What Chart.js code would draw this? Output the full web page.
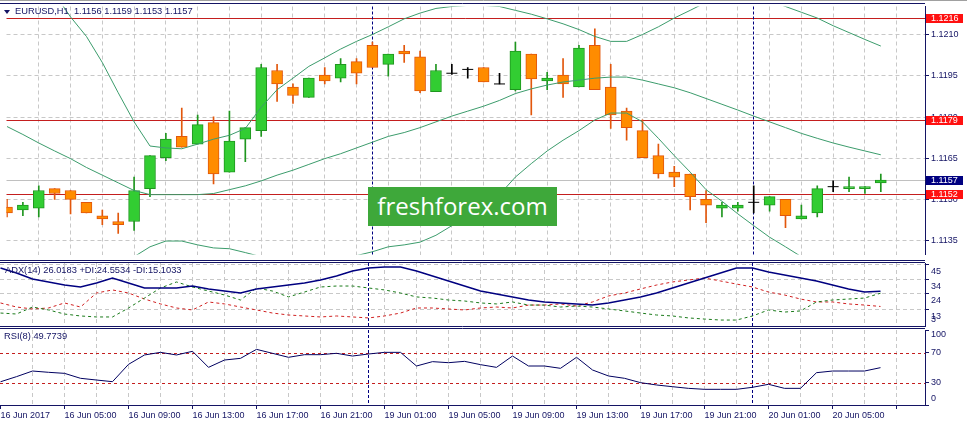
<!DOCTYPE html>
<html>
<head>
<meta charset="utf-8">
<title>EURUSD H1</title>
<script src="https://cdn.jsdelivr.net/npm/chart.js@4.4.1/dist/chart.umd.min.js"></script>
<style>
  html, body { margin: 0; padding: 0; background: #fff; }
  body { position: relative; width: 967px; height: 423px; overflow: hidden; font-family: "Liberation Sans", Arial, sans-serif; }
  canvas { position: absolute; left: 0; }
  #mainChart { top: 0; }
  #adxChart { top: 261px; }
  #rsiChart { top: 327px; }
  .title { position: absolute; font-size: 9.3px; line-height: 11px; color: #141464; white-space: pre; }
  #tri { position: absolute; left: 4px; top: 10px; width: 0; height: 0;
         border-left: 3px solid transparent; border-right: 3px solid transparent; border-top: 4px solid #141464; }
  #wm { position: absolute; left: 368px; top: 187px; width: 189px; height: 39px; background: #3ea83a;
        color: #fff; font-family: "Open Sans", sans-serif; font-size: 24px; line-height: 38px; text-align: center; }
</style>
</head>
<body>
<canvas id="mainChart" width="967" height="261"></canvas>
<canvas id="adxChart" width="967" height="66"></canvas>
<canvas id="rsiChart" width="967" height="96"></canvas>
<div id="tri"></div>
<div class="title" style="left:15px;top:6px">EURUSD,H1  1.1156 1.1159 1.1153 1.1157</div>
<div class="title" style="left:5px;top:265px">ADX(14) 26.0183 +DI:24.5534 -DI:15.1033</div>
<div class="title" style="left:4px;top:331px">RSI(8) 49.7739</div>
<div id="wm">freshforex.com</div>
<script>
// ---- data (one value per H1 bar, 16 Jun 01:00 .. 20 Jun 08:00) ----
const timeLabels = ['16 Jun 2017', '16 Jun 05:00', '16 Jun 09:00', '16 Jun 13:00', '16 Jun 17:00', '16 Jun 21:00',
  '19 Jun 01:00', '19 Jun 05:00', '19 Jun 09:00', '19 Jun 13:00', '19 Jun 17:00', '19 Jun 21:00',
  '20 Jun 01:00', '20 Jun 05:00'];
const dayStarts = [23, 47];

const opens = [1.11473, 1.11462, 1.11469, 1.11540, 1.11533, 1.11490, 1.11441, 1.11420, 1.11420, 1.11540,
  1.11653, 1.11730, 1.11702, 1.11780, 1.11600, 1.11720, 1.11751, 1.11970, 1.11910, 1.11872,
  1.11953, 1.11942, 1.12002, 1.12062, 1.11992, 1.12041, 1.12020, 1.11893, 1.11960, 1.11974,
  1.11981, 1.11921, 1.11900, 1.12030, 1.11932, 1.11953, 1.11910, 1.12062, 1.11910, 1.11822,
  1.11751, 1.11660, 1.11600, 1.11593, 1.11501, 1.11469, 1.11469, 1.11490, 1.11480, 1.11501,
  1.11430, 1.11451, 1.11547, 1.11540, 1.11540, 1.11561];
const highs = [1.11501, 1.11490, 1.11550, 1.11540, 1.11533, 1.11490, 1.11462, 1.11451, 1.11582, 1.11660,
  1.11741, 1.11833, 1.11808, 1.11801, 1.11822, 1.11762, 1.11992, 1.11992, 1.11921, 1.11942,
  1.11981, 1.12013, 1.12013, 1.12073, 1.12030, 1.12062, 1.12041, 1.11992, 1.11992, 1.11981,
  1.11981, 1.11960, 1.12073, 1.12030, 1.11963, 1.12013, 1.12062, 1.12122, 1.11992, 1.11833,
  1.11790, 1.11702, 1.11621, 1.11593, 1.11533, 1.11490, 1.11490, 1.11550, 1.11511, 1.11501,
  1.11480, 1.11550, 1.11568, 1.11582, 1.11547, 1.11593];
const lows = [1.11437, 1.11441, 1.11437, 1.11501, 1.11448, 1.11451, 1.11409, 1.11377, 1.11388, 1.11511,
  1.11642, 1.11691, 1.11702, 1.11557, 1.11600, 1.11638, 1.11730, 1.11857, 1.11850, 1.11872,
  1.11921, 1.11928, 1.11921, 1.11981, 1.11949, 1.11999, 1.11889, 1.11893, 1.11956, 1.11942,
  1.11928, 1.11921, 1.11896, 1.11808, 1.11900, 1.11872, 1.11910, 1.11900, 1.11759, 1.11716,
  1.11653, 1.11578, 1.11547, 1.11462, 1.11416, 1.11437, 1.11458, 1.11451, 1.11458, 1.11398,
  1.11430, 1.11437, 1.11529, 1.11529, 1.11522, 1.11529];
const closes = [1.11451, 1.11480, 1.11533, 1.11522, 1.11501, 1.11451, 1.11430, 1.11409, 1.11533, 1.11660,
  1.11720, 1.11691, 1.11773, 1.11593, 1.11713, 1.11762, 1.11981, 1.11921, 1.11879, 1.11942,
  1.11932, 1.11992, 1.11960, 1.11981, 1.12030, 1.12030, 1.11896, 1.11970, 1.11960, 1.11974,
  1.11928, 1.11921, 1.12041, 1.11939, 1.11942, 1.11921, 1.12052, 1.11900, 1.11808, 1.11762,
  1.11653, 1.11593, 1.11582, 1.11511, 1.11480, 1.11480, 1.11480, 1.11490, 1.11511, 1.11441,
  1.11441, 1.11540, 1.11547, 1.11547, 1.11547, 1.11571];

const bbUpper = [1.12482, 1.12405, 1.12327, 1.12249, 1.12165, 1.12094, 1.11999, 1.11889, 1.11783, 1.11695,
  1.11688, 1.11685, 1.11702, 1.11720, 1.11734, 1.11759, 1.11836, 1.11900, 1.11942, 1.11985,
  1.12016, 1.12048, 1.12076, 1.12101, 1.12129, 1.12158, 1.12179, 1.12196, 1.12203, 1.12207,
  1.12207, 1.12203, 1.12189, 1.12175, 1.12158, 1.12140, 1.12119, 1.12094, 1.12076, 1.12076,
  1.12101, 1.12129, 1.12161, 1.12189, 1.12218, 1.12239, 1.12246, 1.12239, 1.12225, 1.12203,
  1.12182, 1.12161, 1.12133, 1.12108, 1.12083, 1.12059];
const bbMiddle = [1.11766, 1.11737, 1.11706, 1.11677, 1.11649, 1.11617, 1.11589, 1.11561, 1.11533, 1.11518,
  1.11518, 1.11518, 1.11518, 1.11522, 1.11536, 1.11550, 1.11568, 1.11589, 1.11607, 1.11628,
  1.11649, 1.11667, 1.11688, 1.11709, 1.11730, 1.11744, 1.11762, 1.11783, 1.11804, 1.11822,
  1.11840, 1.11861, 1.11886, 1.11903, 1.11917, 1.11928, 1.11935, 1.11942, 1.11946, 1.11946,
  1.11935, 1.11921, 1.11907, 1.11889, 1.11868, 1.11847, 1.11826, 1.11804, 1.11783, 1.11762,
  1.11741, 1.11723, 1.11706, 1.11691, 1.11677, 1.11663];
const bbLower = [1.11049, 1.11070, 1.11084, 1.11105, 1.11133, 1.11141, 1.11180, 1.11232, 1.11292, 1.11328,
  1.11349, 1.11349, 1.11335, 1.11324, 1.11321, 1.11307, 1.11292, 1.11278, 1.11271, 1.11271,
  1.11282, 1.11285, 1.11296, 1.11310, 1.11328, 1.11335, 1.11345, 1.11370, 1.11405, 1.11437,
  1.11469, 1.11518, 1.11582, 1.11631, 1.11677, 1.11716, 1.11751, 1.11790, 1.11815, 1.11815,
  1.11783, 1.11723, 1.11660, 1.11600, 1.11536, 1.11494, 1.11448, 1.11405, 1.11363, 1.11328,
  1.11292, 1.11285, 1.11278, 1.11275, 1.11271, 1.11268];

const adxLine = [42.6, 39.0, 34.7, 32.6, 30.4, 29.0, 31.9, 35.4, 31.9, 28.3,
  28.3, 28.3, 29.7, 27.6, 26.1, 24.7, 27.6, 29.0, 30.4, 31.9,
  34.0, 36.9, 40.4, 42.6, 43.3, 43.3, 40.4, 36.9, 33.3, 29.7,
  26.1, 24.0, 21.9, 19.7, 18.3, 17.6, 16.9, 16.1, 17.6, 19.7,
  21.9, 24.7, 28.3, 31.9, 35.4, 39.0, 42.6, 42.6, 39.7, 37.6,
  35.4, 33.3, 30.4, 27.6, 25.4, 26.0];
const plusDI = [10.4, 9.7, 14.7, 12.6, 9.7, 8.3, 7.6, 7.6, 14.0, 21.1,
  28.3, 32.6, 29.0, 26.1, 23.3, 19.7, 28.3, 26.1, 21.9, 25.4,
  29.0, 29.7, 29.7, 28.3, 26.9, 24.7, 21.9, 21.1, 19.7, 19.0,
  17.6, 16.9, 18.3, 16.1, 16.1, 14.7, 15.4, 14.7, 13.3, 11.9,
  10.4, 9.0, 8.3, 6.9, 6.1, 5.4, 5.4, 8.3, 12.6, 11.1,
  11.9, 18.3, 19.7, 20.4, 21.1, 24.55];
const minusDI = [17.6, 14.7, 13.3, 14.0, 17.6, 14.7, 24.7, 26.9, 24.7, 20.4,
  16.9, 14.0, 12.6, 18.3, 16.9, 14.7, 12.6, 10.4, 9.0, 8.3,
  7.6, 8.3, 7.6, 6.9, 8.3, 10.4, 14.0, 14.0, 13.3, 12.6,
  14.0, 14.7, 14.0, 16.1, 16.1, 16.9, 15.4, 18.3, 22.6, 24.7,
  27.6, 30.4, 32.6, 34.0, 35.4, 33.3, 31.1, 29.0, 25.4, 23.3,
  20.4, 18.3, 18.3, 16.9, 16.1, 15.1];
const rsiLine = [31, 37.8, 45.3, 43.6, 42.2, 35.6, 33.3, 31.1, 54.2, 66.7,
  70.2, 66.7, 71.6, 50.2, 60, 62.2, 74.2, 68.9, 63.6, 67.1,
  67.1, 68.9, 65.3, 68, 70.2, 70.2, 52, 57.8, 56.4, 58.2,
  53.8, 50.2, 65.3, 52, 52, 48.9, 63.6, 46.7, 38.7, 35.6,
  29.8, 26.7, 24.4, 22.2, 20.9, 20.9, 20.9, 23.6, 27.6, 22.2,
  22.2, 43.1, 45.3, 45.3, 45.3, 49.8];

const priceTicks = [1.1135, 1.1150, 1.1165, 1.1180, 1.1195, 1.1210];
const priceLevels = [1.1216, 1.1179, 1.1152];
const bidPrice = 1.1157;
const adxTicks = [45, 34, 24, 13];
const adxLabels = [45, 34, 24, 13, 3];
const rsiTicks = [100, 70, 30, 0];
const rsiLevels = [70, 30];

// ---- styles ----
const NAVY = '#141464';
const GRID = '#c8c8c8';
const BAND = '#3c9c6c';
const LEVEL = '#c41e1e';
const BULL_FILL = '#32cd32', BULL_LINE = '#1f961f';
const BEAR_FILL = '#ff8c00', BEAR_LINE = '#e2570c';
const FONT = '"Liberation Sans", Arial, sans-serif';
const font = { family: FONT, size: 9 };

const common = {
  responsive: false,
  animation: false,
  events: [],
  plugins: { legend: { display: false }, tooltip: { enabled: false } }
};

const pts = arr => arr.map((v, i) => ({ x: i, y: v }));

// same x scale in every panel: bar i sits on pixel column 16*i
function xScale(showLabels) {
  return {
    type: 'linear',
    bounds: 'data',
    min: -0.03125,
    max: 57.78125,
    offset: false,
    afterBuildTicks: s => {
      s.ticks = [];
      for (let v = 0; v <= 56; v += 2) s.ticks.push({ value: v });
    },
    afterFit: s => {
      s.height = showLabels ? 18 : 0;
      s.paddingLeft = 0; s.paddingRight = 0;
    },
    grid: {
      offset: false,
      color: c => (c.tick && c.tick.value === 0 ? 'rgba(0,0,0,0)' : GRID),
      drawTicks: showLabels,
      tickLength: 4,
      tickColor: c => (c.tick && c.tick.value % 4 === 0 ? NAVY : 'rgba(0,0,0,0)'),
      tickBorderDash: [1, 0]
    },
    border: { display: showLabels, color: NAVY, dash: [4, 3] },
    ticks: {
      display: showLabels, autoSkip: false, maxRotation: 0, minRotation: 0,
      align: 'start', padding: 1, color: NAVY, font,
      callback: v => (v % 4 === 0 ? (timeLabels[v / 4] || '') : '')
    }
  };
}

function subY(min, max, ticks, gridOn) {
  return {
    position: 'right', bounds: 'data', min, max,
    afterBuildTicks: s => { s.ticks = ticks.map(v => ({ value: v })); },
    afterFit: s => { s.width = 42; s.paddingTop = 0; s.paddingBottom = 0; },
    grid: { drawOnChartArea: gridOn, color: GRID, tickLength: 4, tickColor: NAVY, tickBorderDash: [1, 0] },
    border: { color: NAVY, dash: [4, 3] },
    ticks: { display: false }
  };
}

function hline(ctx, a, y, color, dash) {
  ctx.save();
  ctx.strokeStyle = color;
  ctx.lineWidth = 1;
  ctx.setLineDash(dash);
  ctx.beginPath();
  ctx.moveTo(a.left, y);
  ctx.lineTo(a.right, y);
  ctx.stroke();
  ctx.restore();
}

function daySeparators(chart) {
  const { ctx, chartArea: a, scales: { x } } = chart;
  ctx.save();
  ctx.strokeStyle = '#000080';
  ctx.lineWidth = 1;
  ctx.setLineDash([3, 2]);
  dayStarts.forEach(i => {
    const px = Math.round(x.getPixelForValue(i) - 0.5) + 0.5;
    ctx.beginPath();
    ctx.moveTo(px, a.top);
    ctx.lineTo(px, a.bottom);
    ctx.stroke();
  });
  ctx.restore();
}

function frameLine(ctx, y, x1, x2, color) {
  ctx.save();
  ctx.strokeStyle = color;
  ctx.lineWidth = 1;
  ctx.beginPath();
  ctx.moveTo(x1, y);
  ctx.lineTo(x2, y);
  ctx.stroke();
  ctx.restore();
}

function drawTag(ctx, yPix, text, bg) {
  const yy = Math.round(yPix);
  ctx.fillStyle = bg;
  ctx.fillRect(926, yy - 4, 37, 9);
  ctx.fillStyle = '#ffffff';
  ctx.font = '9px ' + FONT;
  ctx.textBaseline = 'middle';
  ctx.textAlign = 'left';
  ctx.fillText(text, 931, yy + 0.5);
}

const mainOverlay = {
  id: 'mainOverlay',
  beforeDatasetsDraw(chart) {
    const { ctx, chartArea: a, scales: { y } } = chart;
    hline(ctx, a, Math.round(y.getPixelForValue(bidPrice)) + 0.5, '#c0c0c0', []);
    priceLevels.forEach(v => hline(ctx, a, Math.round(y.getPixelForValue(v)) + 0.5, LEVEL, []));
    daySeparators(chart);
  },
  afterDraw(chart) {
    const { ctx, chartArea: a, scales: { y } } = chart;
    frameLine(ctx, 0.5, 0, 967, '#a0a0a0');
    frameLine(ctx, 3.5, 0, a.right, NAVY);
    frameLine(ctx, 260.5, 0, a.right, NAVY);
    ctx.save();
    priceLevels.forEach(v => drawTag(ctx, y.getPixelForValue(v), v.toFixed(4), '#ff1010'));
    drawTag(ctx, y.getPixelForValue(bidPrice), bidPrice.toFixed(4), '#000080');
    ctx.restore();
  }
};

function panelOverlay(labels, offset, levels, topBorder, bottomBorder) {
  return {
    id: 'panelOverlay',
    beforeDatasetsDraw(chart) {
      const { ctx, chartArea: a, scales: { y } } = chart;
      levels.forEach(v => hline(ctx, a, Math.round(y.getPixelForValue(v)) + 0.5, LEVEL, [3, 3]));
      daySeparators(chart);
    },
    afterDraw(chart) {
      const { ctx, chartArea: a, scales: { y } } = chart;
      if (topBorder !== null) frameLine(ctx, topBorder, 0, a.right, NAVY);
      if (bottomBorder !== null) frameLine(ctx, bottomBorder, 0, a.right, NAVY);
      ctx.save();
      ctx.font = '9px ' + FONT;
      ctx.fillStyle = NAVY;
      ctx.textBaseline = 'middle';
      ctx.textAlign = 'left';
      labels.forEach(v => {
        let py = y.getPixelForValue(v) + offset;
        py = Math.min(Math.max(py, a.top + 5), a.bottom - 6);
        ctx.fillText(String(v), a.right + 6, py);
      });
      ctx.restore();
    }
  };
}

// ---- main price panel ----
const idx = opens.map((_, i) => i);
const doji = idx.filter(i => opens[i] === closes[i]);
const bodies = idx.filter(i => opens[i] !== closes[i]);
const isUp = i => closes[i] > opens[i];

new Chart(document.getElementById('mainChart'), {
  type: 'bar',
  data: {
    datasets: [
      { type: 'line', data: pts(bbUpper), borderColor: BAND, borderWidth: 1, pointRadius: 0, tension: 0, order: 0 },
      { type: 'line', data: pts(bbMiddle), borderColor: BAND, borderWidth: 1, pointRadius: 0, tension: 0, order: 0 },
      { type: 'line', data: pts(bbLower), borderColor: BAND, borderWidth: 1, pointRadius: 0, tension: 0, order: 0 },
      {
        type: 'scatter', data: doji.map(i => ({ x: i, y: opens[i] })),
        pointStyle: 'line', pointRadius: 5.5, pointBorderColor: '#000', pointBorderWidth: 1, order: 1
      },
      {
        data: bodies.map(i => ({ x: i, y: [Math.min(opens[i], closes[i]), Math.max(opens[i], closes[i])] })),
        backgroundColor: bodies.map(i => (isUp(i) ? BULL_FILL : BEAR_FILL)),
        borderColor: bodies.map(i => (isUp(i) ? BULL_LINE : BEAR_LINE)),
        borderWidth: 1, borderSkipped: false, barThickness: 11, grouped: false, order: 2
      },
      {
        data: idx.map(i => ({ x: i, y: [lows[i], highs[i]] })),
        backgroundColor: idx.map(i => (opens[i] === closes[i] ? '#000' : isUp(i) ? BULL_LINE : BEAR_LINE)),
        borderWidth: 0, barThickness: 1, grouped: false, order: 3
      }
    ]
  },
  options: {
    ...common,
    layout: { padding: { top: 4, bottom: 1, left: 0, right: 0 } },
    scales: {
      x: xScale(false),
      y: {
        position: 'right', bounds: 'data', min: 1.11300, max: 1.12203,
        afterBuildTicks: s => { s.ticks = priceTicks.map(v => ({ value: v })); },
        afterFit: s => { s.width = 42; s.paddingTop = 0; s.paddingBottom = 0; },
        grid: { color: GRID, tickLength: 4, tickColor: NAVY, tickBorderDash: [1, 0] },
        border: { color: NAVY, dash: [4, 3] },
        ticks: { color: NAVY, font, padding: 2, callback: v => Number(v).toFixed(4) }
      }
    }
  },
  plugins: [mainOverlay]
});

// ---- ADX panel ----
new Chart(document.getElementById('adxChart'), {
  type: 'line',
  data: {
    datasets: [
      { data: pts(adxLine), borderColor: '#000080', borderWidth: 1.5, pointRadius: 0, tension: 0 },
      { data: pts(plusDI), borderColor: '#1a7a1a', borderWidth: 1, borderDash: [3, 3], pointRadius: 0, tension: 0 },
      { data: pts(minusDI), borderColor: '#d02020', borderWidth: 1, borderDash: [3, 3], pointRadius: 0, tension: 0 }
    ]
  },
  options: {
    ...common,
    layout: { padding: { top: 2, bottom: 1, left: 0, right: 0 } },
    scales: { x: xScale(false), y: subY(1.14, 46.14, adxTicks, true) }
  },
  plugins: [panelOverlay(adxLabels, 7, [], 1.5, 65.5)]
});

// ---- RSI panel ----
new Chart(document.getElementById('rsiChart'), {
  type: 'line',
  data: {
    datasets: [
      { data: pts(rsiLine), borderColor: '#000060', borderWidth: 1, pointRadius: 0, tension: 0 }
    ]
  },
  options: {
    ...common,
    layout: { padding: { top: 3, bottom: 0, left: 0, right: 0 } },
    scales: { x: xScale(true), y: subY(0, 100, rsiTicks, false) }
  },
  plugins: [panelOverlay(rsiTicks, 0, rsiLevels, 1.5, null)]
});
</script>
</body>
</html>
